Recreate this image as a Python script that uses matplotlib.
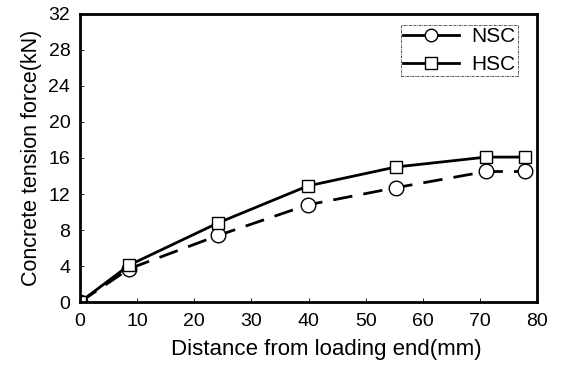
import matplotlib
matplotlib.use("Agg")
import matplotlib.pyplot as plt
from matplotlib.lines import Line2D

plt.rcParams['font.family'] = ['Liberation Sans', 'DejaVu Sans']

distance = [0, 8.6, 24.2, 39.9, 55.3, 71.1, 77.9]
nsc = [0, 3.7, 7.4, 10.8, 12.7, 14.5, 14.5]
hsc = [0, 4.1, 8.8, 12.9, 15.0, 16.1, 16.1]

fig = plt.figure(figsize=(5.64, 3.67), dpi=100)
ax = fig.add_axes([0.142, 0.177, 0.81, 0.785])

ax.plot(distance, nsc, color='black', linestyle=(0, (7, 4)), linewidth=2,
        marker='o', markersize=10.5, markerfacecolor='white', markeredgecolor='black',
        markeredgewidth=1.0, label='NSC')
ax.plot(distance, hsc, color='black', linestyle='-', linewidth=2,
        marker='s', markersize=8, markerfacecolor='white', markeredgecolor='black',
        markeredgewidth=1.0, label='HSC')

ax.set_xlim(0, 80)
ax.set_ylim(0, 32)
ax.set_xticks(range(0, 81, 10))
ax.set_yticks(range(0, 33, 4))
ax.tick_params(direction='in', length=3, width=0.6, labelsize=14)
ax.tick_params(axis='x', pad=8)
ax.tick_params(axis='y', pad=7)
for s in ax.spines.values():
    s.set_linewidth(2)

ax.set_xlabel("Distance from loading end(mm)", fontsize=16)
ax.xaxis.set_label_coords(0.54, -0.13)
ax.set_ylabel("Concrete tension force(kN)", fontsize=15.5, labelpad=5)

handles = [
    Line2D([], [], color='black', linewidth=2, marker='o', markersize=9,
           markerfacecolor='white', markeredgecolor='black'),
    Line2D([], [], color='black', linewidth=2, marker='s', markersize=8,
           markerfacecolor='white', markeredgecolor='black'),
]
leg = ax.legend(handles, ['NSC', 'HSC'], loc='upper right',
                bbox_to_anchor=(0.958, 0.962), fontsize=15,
                frameon=True, fancybox=False, borderaxespad=0,
                handlelength=2.7, handletextpad=0.6, borderpad=0.1,
                labelspacing=0.45)
leg.get_frame().set_edgecolor('black')
leg.get_frame().set_linewidth(0.6)
leg.get_frame().set_linestyle((0, (3, 1, 1, 1)))

fig.savefig("out.png", dpi=100)
